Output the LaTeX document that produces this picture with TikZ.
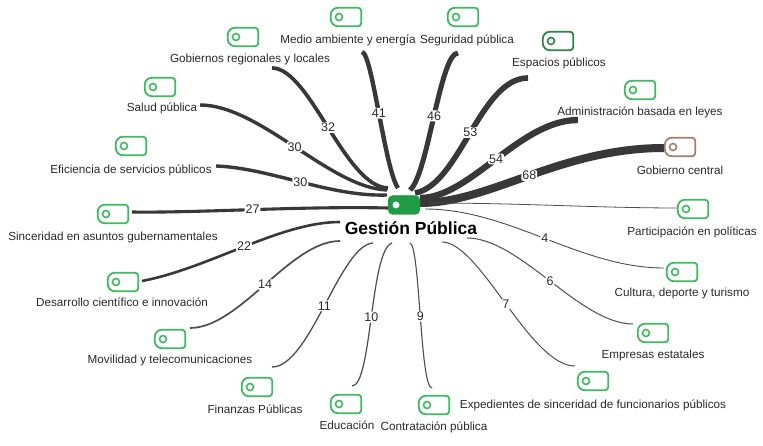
\documentclass[tikz,border=0pt]{standalone}
\usepackage{fontspec}
\setmainfont{Liberation Sans}
\begin{document}
\begin{tikzpicture}[x=1pt,y=-1pt]
\definecolor{tg}{HTML}{3DBB5E}
\definecolor{tgd}{HTML}{2E8449}
\definecolor{tgb}{HTML}{A47E70}
\definecolor{cg}{HTML}{1F9A45}
\definecolor{ed}{HTML}{383838}
\definecolor{edt}{HTML}{4E4E4E}
\definecolor{tx}{HTML}{2A2A2A}
\tikzset{
  tagbox/.style={minimum width=30pt, minimum height=18pt, inner sep=0pt},
  tagline/.style={draw=#1, line width=1.8pt},
  tagdot/.style={circle, draw=#1, minimum size=7pt, inner sep=0pt, line width=1.6pt},
  lab/.style={font=\fontsize{11.7}{13}\selectfont, text=tx, inner sep=0pt},
  elab/.style={font=\fontsize{12.5}{13}\selectfont, text=tx, fill=white, rounded corners=2pt, inner sep=1pt},
  edg/.style={draw=ed, line width=#1},
  edgt/.style={draw=edt, line width=#1}
}
\newcommand{\tagicon}[3]{%
  \node[tagbox] (#1) at (#2) {};
  \draw[tagline=#3] (#1.north) [rounded corners=7pt] -| (#1.south west) [rounded corners=3pt] -| (#1.north east) -- (#1.north);
  \node[tagdot=#3] (#1c) at ([xshift=-7pt]#1.center) {};
}
\useasboundingbox[fill=white] (0,0) rectangle (763,446);

% coordinates
\coordinate (c) at (404,205);
\coordinate (s68) at (420,203); \coordinate (e68) at (664,148);
\coordinate (s54) at (420,198); \coordinate (e54) at (578,120);
\coordinate (s53) at (415,193); \coordinate (e53) at (528,78);
\coordinate (s46) at (410,190); \coordinate (e46) at (458,53);
\coordinate (s41) at (398,188); \coordinate (e41) at (362,52);
\coordinate (s32) at (388,188); \coordinate (e32) at (272,68);
\coordinate (s30a) at (387,190); \coordinate (e30a) at (200,105);
\coordinate (s30b) at (387,195); \coordinate (e30b) at (216,166);
\coordinate (s27) at (388,208); \coordinate (e27) at (132,212);
\coordinate (s22) at (340,222); \coordinate (e22) at (142,281);
\coordinate (s14) at (340,241); \coordinate (e14) at (190,328);
\coordinate (s11) at (373,243); \coordinate (e11) at (272,367);
\coordinate (s10) at (392,243); \coordinate (e10) at (352,386);
\coordinate (s9) at (410,243); \coordinate (e9) at (432,388);
\coordinate (s7) at (442,242); \coordinate (e7) at (575,366);
\coordinate (s6) at (467,238); \coordinate (e6) at (633,324);
\coordinate (s4) at (425,209); \coordinate (e4) at (664,268);
\coordinate (sp) at (430,203); \coordinate (ep) at (678,208);

% edges
\draw[edg=8pt] (s68) .. controls (490,203) and (560,148) .. node[elab]{68} (e68);
\draw[edg=6.3pt] (s54) .. controls (470,198) and (520,120) .. node[elab]{54} (e54);
\draw[edg=5.6pt] (s53) .. controls (460,185) and (480,78) .. node[elab]{53} (e53);
\draw[edg=5pt] (s46) .. controls (428,175) and (440,53) .. node[elab]{46} (e46);
\draw[edg=4.4pt] (s41) .. controls (385,170) and (372,52) .. node[elab]{41} (e41);
\draw[edg=3.7pt] (s32) .. controls (345,187) and (310,68) .. node[elab]{32} (e32);
\draw[edg=3.4pt] (s30a) .. controls (330,188) and (260,105) .. node[elab]{30} (e30a);
\draw[edg=3.4pt] (s30b) .. controls (330,197) and (270,168) .. node[elab]{30} (e30b);
\draw[edg=3.1pt] (s27) .. controls (300,206) and (200,213) .. node[elab]{27} (e27);
\draw[edg=2.6pt] (s22) .. controls (280,222) and (210,268) .. node[elab]{22} (e22);
\draw[edgt=1.7pt] (s14) .. controls (290,241) and (240,328) .. node[elab]{14} (e14);
\draw[edgt=1.3pt] (s11) .. controls (340,245) and (310,367) .. node[elab]{11} (e11);
\draw[edgt=1.2pt] (s10) .. controls (370,250) and (372,386) .. node[elab]{10} (e10);
\draw[edgt=1.1pt] (s9) .. controls (420,245) and (420,388) .. node[elab]{9} (e9);
\draw[edgt=1pt] (s7) .. controls (480,242) and (530,366) .. node[elab]{7} (e7);
\draw[edgt=1pt] (s6) .. controls (520,238) and (580,324) .. node[elab]{6} (e6);
\draw[edgt=0.9pt] (s4) .. controls (510,209) and (580,268) .. node[elab]{4} (e4);
\draw[edgt=0.8pt] (sp) .. controls (520,203) and (600,208) .. (ep);

% centre
\node[fill=cg, draw=cg, rounded corners=5pt, minimum width=32pt, minimum height=19pt, inner sep=0pt] (ctr) at (c) {};
\node[circle, fill=white, minimum size=7pt, inner sep=0pt] (ctrc) at ([xshift=-8pt]ctr.center) {};
\node[font=\fontsize{17.5}{19}\selectfont\bfseries, text=black, inner sep=0pt] (title) at (411,228) {Gestión Pública};

% icons
\tagicon{i1}{346,17}{tg}
\tagicon{i2}{463,17}{tg}
\tagicon{i3}{558,41}{tgd}
\tagicon{i4}{243,37}{tg}
\tagicon{i5}{160,87}{tg}
\tagicon{i6}{131,146}{tg}
\tagicon{i7}{113,214}{tg}
\tagicon{i8}{123,282}{tg}
\tagicon{i9}{170,339}{tg}
\tagicon{i10}{257,387}{tg}
\tagicon{i11}{346,404}{tg}
\tagicon{i12}{434,405}{tg}
\tagicon{i13}{593,381}{tg}
\tagicon{i14}{653,333}{tg}
\tagicon{i15}{682,272}{tg}
\tagicon{i16}{693,209}{tg}
\tagicon{i17}{680,147}{tgb}
\tagicon{i18}{640,90}{tg}

% labels
\node[lab] (l1) at (348,40) {Medio ambiente y energía};
\node[lab] (l2) at (467,40) {Seguridad pública};
\node[lab] (l3) at (559,63) {Espacios públicos};
\node[lab] (l4) at (250,59) {Gobiernos regionales y locales};
\node[lab] (l5) at (162,108) {Salud pública};
\node[lab] (l6) at (131,170) {Eficiencia de servicios públicos};
\node[lab] (l7) at (113,237) {Sinceridad en asuntos gubernamentales};
\node[lab] (l8) at (122,302) {Desarrollo científico e innovación};
\node[lab] (l9) at (170,360) {Movilidad y telecomunicaciones};
\node[lab] (l10) at (255,409) {Finanzas Públicas};
\node[lab] (l11) at (347,425) {Educación};
\node[lab] (l12) at (434,427) {Contratación pública};
\node[lab] (l13) at (593,405) {Expedientes de sinceridad de funcionarios públicos};
\node[lab] (l14) at (653,355) {Empresas estatales};
\node[lab] (l15) at (682,293) {Cultura, deporte y turismo};
\node[lab] (l16) at (692,232) {Participación en políticas};
\node[lab] (l17) at (680,170) {Gobierno central};
\node[lab] (l18) at (640,112) {Administración basada en leyes};
\end{tikzpicture}
\end{document}
